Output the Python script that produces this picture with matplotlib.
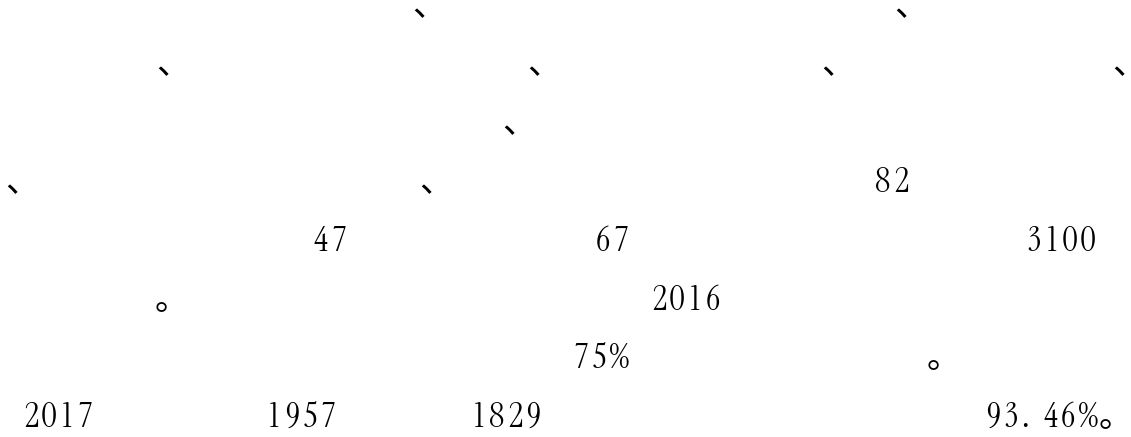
import matplotlib
matplotlib.use("Agg")
import matplotlib.pyplot as plt
from matplotlib import font_manager as fm
from matplotlib.font_manager import FontProperties
from matplotlib.textpath import TextPath

W, H = 1131, 437

# ---- content: visible text fragments (the CJK ideographs are blank in the reference) ----
tokens = ["、", "、",
          "、", "、", "、", "、",
          "、",
          "、", "、", "82",
          "47", "67", "3100",
          "。", "2016",
          "75%", "。",
          "2017", "1957", "1829", "93. 46%", "。"]
token_line = [0, 0,
              1, 1, 1, 1,
              2,
              3, 3, 3,
              4, 4, 4,
              5, 5,
              6, 6,
              7, 7, 7, 7, 7]
# left ink edge of each fragment, in pixels from the left
token_x = [412, 894,
           156, 527, 821, 1112,
           502,
           5, 419, 877,
           315, 597, 1028,
           155, 653,
           575, 927,
           25, 268, 473, 987, 1099]

first_baseline = 15.75
line_pitch = 58.75
digit_height_px = 26.0
# cell width (px) of each half-width glyph in the condensed, letter-spaced setting
cell = {".": 9.0, " ": 12.0, "%": 22.0}
digit_cell = 18.0
digit_ink = 12.0

names = {f.name for f in fm.fontManager.ttflist}
serif_family = next((n for n in ["Instrument Serif", "Liberation Serif", "DejaVu Serif"] if n in names), "DejaVu Serif")
serif_fp = FontProperties(family=serif_family)
cjk_family = "Noto Serif CJK SC" if "Noto Serif CJK SC" in names else "Noto Sans CJK SC"
cjk_fp = FontProperties(family=cjk_family)

ext = TextPath((0, 0), "0", prop=serif_fp, size=100).get_extents()
em_px = digit_height_px * 100.0 / ext.height
size_pt = em_px * 72.0 / 100.0
cjk_size_pt = 34.0 * 72.0 / 100.0

fig = plt.figure(figsize=(W / 100, H / 100), dpi=100)
fig.patch.set_facecolor("white")

for s, ln, x in zip(tokens, token_line, token_x):
    y = first_baseline + ln * line_pitch
    if s in ("、", "。"):
        fp = cjk_fp.copy()
        fp.set_size(cjk_size_pt)
        fig.text(x / W, 1 - y / H, s, fontproperties=fp, ha="left", va="baseline", color="black")
        continue
    fp = serif_fp.copy()
    fp.set_size(size_pt)
    left = x - (digit_cell - digit_ink) / 2.0
    for ch in s:
        w = cell.get(ch, digit_cell)
        if ch != " ":
            fig.text((left + w / 2.0) / W, 1 - y / H, ch, fontproperties=fp,
                     ha="center", va="baseline", color="black")
        left += w

fig.savefig("out.png", dpi=100, facecolor="white")
